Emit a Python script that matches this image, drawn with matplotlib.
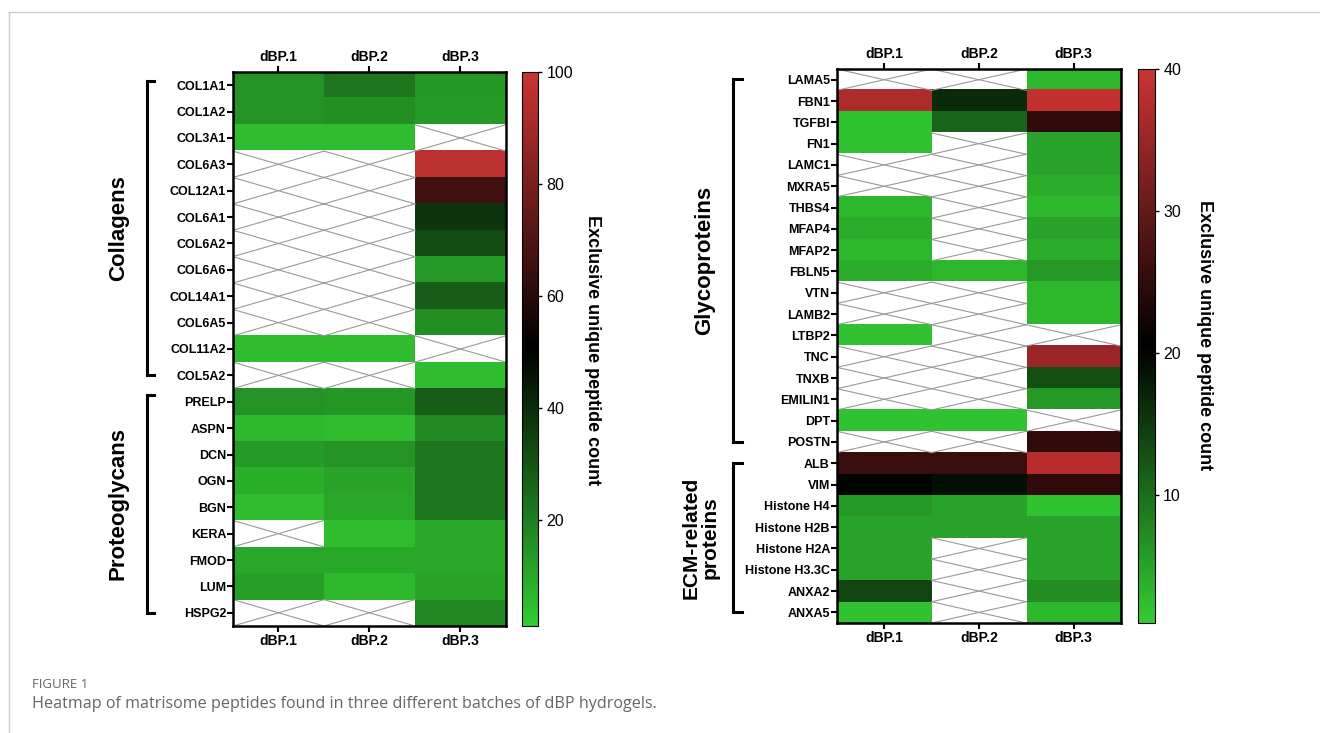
import numpy as np
import matplotlib
matplotlib.use('Agg')
import matplotlib.pyplot as plt
from matplotlib.colors import LinearSegmentedColormap
from matplotlib.lines import Line2D
import matplotlib.transforms as mtransforms

plt.rcParams['font.family'] = ['Liberation Sans', 'DejaVu Sans']

nan = np.nan
batches = ['dBP.1', 'dBP.2', 'dBP.3']

# 左图：胶原蛋白 + 蛋白聚糖
collagens = ['COL1A1', 'COL1A2', 'COL3A1', 'COL6A3', 'COL12A1', 'COL6A1',
             'COL6A2', 'COL6A6', 'COL14A1', 'COL6A5', 'COL11A2', 'COL5A2']
proteoglycans = ['PRELP', 'ASPN', 'DCN', 'OGN', 'BGN', 'KERA', 'FMOD', 'LUM', 'HSPG2']
left_dbp1 = [15, 15, 5, nan, nan, nan, nan, nan, nan, nan, 5, nan,
             15, 6, 13, 8, 5, nan, 10, 12, nan]
left_dbp2 = [22, 16, 5, nan, nan, nan, nan, nan, nan, nan, 5, nan,
             14, 5, 15, 11, 10, 5, 10, 6, nan]
left_dbp3 = [14, 13, nan, 96, 66, 38, 32, 13, 28, 16, nan, 5,
             28, 17, 22, 22, 22, 10, 10, 11, 18]

# 右图：糖蛋白 + ECM 相关蛋白
glycoproteins = ['LAMA5', 'FBN1', 'TGFBI', 'FN1', 'LAMC1', 'MXRA5', 'THBS4', 'MFAP4',
                 'MFAP2', 'FBLN5', 'VTN', 'LAMB2', 'LTBP2', 'TNC', 'TNXB', 'EMILIN1',
                 'DPT', 'POSTN']
ecm_related = ['ALB', 'VIM', 'Histone H4', 'Histone H2B', 'Histone H2A',
               'Histone H3.3C', 'ANXA2', 'ANXA5']
right_dbp1 = [nan, 37, 2, 2, nan, nan, 3, 4, 3, 4, nan, nan, 2, nan, nan, nan, 2, nan,
              26, 20, 6, 5, 5, 5, 14, 2]
right_dbp2 = [nan, 16.5, 11, nan, nan, nan, nan, nan, nan, 3, nan, nan, nan, nan, nan, nan, 2, nan,
              26, 19, 5, 5, nan, nan, nan, nan]
right_dbp3 = [3, 39, 25, 5, 5, 4, 3, 5, 4, 6, 3, 3, nan, 35, 13, 6, nan, 25,
              38, 25, 2, 5, 5, 5, 7, 3]

cmap = LinearSegmentedColormap.from_list('gbr', ['#33cc33', '#000000', '#cc3333'])
cmap.set_bad('white')


def draw_heatmap(fig, rect, cbar_rect, rows, cols, vmin, vmax, cticks, cbar_y):
    ax = fig.add_axes(rect)
    data = np.array(cols, dtype=float).T
    im = ax.imshow(np.ma.masked_invalid(data), cmap=cmap, vmin=vmin, vmax=vmax,
                   aspect='auto', interpolation='nearest')
    # 缺失值画灰色叉
    for i in range(data.shape[0]):
        for j in range(data.shape[1]):
            if np.isnan(data[i, j]):
                ax.plot([j - 0.5, j + 0.5], [i - 0.5, i + 0.5], color='#999999', lw=0.8)
                ax.plot([j - 0.5, j + 0.5], [i + 0.5, i - 0.5], color='#999999', lw=0.8)
    ax.set_xlim(-0.5, data.shape[1] - 0.5)
    ax.set_ylim(data.shape[0] - 0.5, -0.5)
    ax.set_xticks(range(len(batches)))
    ax.set_xticklabels(batches, fontsize=10, fontweight='bold')
    ax.set_yticks(range(len(rows)))
    ax.set_yticklabels(rows, fontsize=9, fontweight='bold')
    ax.tick_params(axis='x', top=True, labeltop=True, bottom=True, labelbottom=True,
                   length=4, width=1.5, pad=2)
    ax.tick_params(axis='y', length=4, width=1.5, pad=1)
    for s in ax.spines.values():
        s.set_linewidth(1.8)

    cax = fig.add_axes(cbar_rect)
    cb = fig.colorbar(im, cax=cax, ticks=cticks)
    cb.outline.set_linewidth(0.8)
    cax.tick_params(labelsize=11.5, length=3, width=1, pad=3)
    cax.text(cbar_y[0], cbar_y[1], 'Exclusive unique peptide count', rotation=270,
             ha='center', va='center', fontsize=13, fontweight='bold',
             transform=cax.transAxes)
    return ax


def bracket(ax, x0, x1, y0, y1, label, lx, fs=16):
    tr = mtransforms.blended_transform_factory(ax.transAxes, ax.transData)
    ax.plot([x1, x0, x0, x1], [y0, y0, y1, y1], color='black', lw=2.2,
            transform=tr, clip_on=False, solid_joinstyle='miter')
    ax.text(lx, (y0 + y1) / 2, label, rotation=90, ha='center', va='center',
            fontsize=fs, fontweight='bold', transform=tr, linespacing=1.0)


fig = plt.figure(figsize=(13.2, 7.33), dpi=100)

ax1 = draw_heatmap(fig, [0.1765, 0.146, 0.2068, 0.7558], [0.3955, 0.146, 0.0121, 0.7558],
                   collagens + proteoglycans, [left_dbp1, left_dbp2, left_dbp3],
                   1, 100, [20, 40, 60, 80, 100], (4.4, 0.498))
bracket(ax1, -0.315, -0.29, -0.15, 11, 'Collagens', -0.42)
bracket(ax1, -0.315, -0.29, 11.75, 20, 'Proteoglycans', -0.42)

ax2 = draw_heatmap(fig, [0.634, 0.150, 0.2152, 0.7558], [0.862, 0.150, 0.0129, 0.7558],
                   glycoproteins + ecm_related, [right_dbp1, right_dbp2, right_dbp3],
                   1, 40, [10, 20, 30, 40], (3.94, 0.52))
bracket(ax2, -0.366, -0.335, -0.05, 17, 'Glycoproteins', -0.465)
bracket(ax2, -0.366, -0.335, 18, 25, 'ECM-related\nproteins', -0.48, fs=15)

# 外框线与图注
fig.add_artist(Line2D([9 / 1320, 1], [1 - 12 / 733, 1 - 12 / 733], color='#cccccc', lw=1,
                      transform=fig.transFigure))
fig.add_artist(Line2D([9 / 1320, 9 / 1320], [0, 1 - 12 / 733], color='#cccccc', lw=1,
                      transform=fig.transFigure))
fig.text(32 / 1320, 1 - 684 / 733, 'FIGURE 1', fontsize=9.5, color='#666666',
         family=['Open Sans', 'DejaVu Sans'], va='center')
fig.text(32 / 1320, 1 - 704 / 733,
         'Heatmap of matrisome peptides found in three different batches of dBP hydrogels.',
         fontsize=11.6, color='#666666', family=['Open Sans', 'DejaVu Sans'], va='center')

fig.savefig('out.png', dpi=100)
